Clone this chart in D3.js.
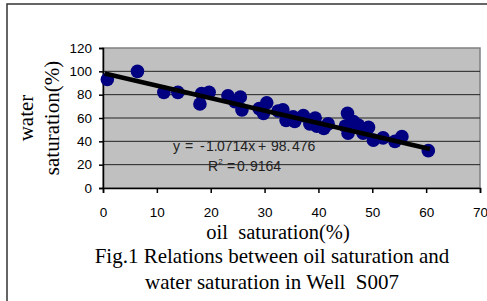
<!DOCTYPE html>
<html>
<head>
<meta charset="utf-8">
<script src="https://cdn.jsdelivr.net/npm/d3@7"></script>
<style>
  body { margin: 0; background: #fff; }
  svg { display: block; }
</style>
</head>
<body>
<div id="chart"></div>
<script>
// data
const oilSat = [0.8, 6.4, 11.3, 13.9, 18, 18.3, 19.7, 23.2, 24.5, 25.5, 25.8, 29, 29.8, 30.4,
  32.5, 33.4, 34, 35.3, 35.6, 37.2, 38.4, 39.4, 39.7, 41, 41.8, 45, 45.4, 45.5, 46.5, 47.4,
  48.3, 49.3, 50.2, 52, 54.2, 55.5, 60.4];
const waterSat = [93, 100, 82, 82, 72, 81, 82, 79, 74, 78, 67, 68, 64, 73,
  66, 67, 58, 61, 57, 62, 55, 60, 53, 51, 55, 53, 64, 47, 57, 54,
  47, 52, 41, 43, 40, 44, 32];
const xTicks = [0, 10, 20, 30, 40, 50, 60, 70];
const yTicks = [0, 20, 40, 60, 80, 100, 120];
const slope = -1.0714, intercept = 98.476;

const W = 487, H = 301;
const margin = { top: 48, right: 7, bottom: 113, left: 103 };
const width = W - margin.left - margin.right;
const height = H - margin.top - margin.bottom;

const svg = d3.select("#chart").append("svg")
  .attr("width", W).attr("height", H);

// outer frame
svg.append("rect")
  .attr("x", 7).attr("y", 4).attr("width", W + 10).attr("height", H + 10)
  .attr("fill", "none").attr("stroke", "#333").attr("stroke-width", 1.5);

const g = svg.append("g").attr("transform", `translate(${margin.left},${margin.top})`);

const x = d3.scaleLinear().domain([0, 70]).range([0, width]);
const y = d3.scaleLinear().domain([0, 120]).range([height, 0]);

// plot background
g.append("rect").attr("width", width).attr("height", height)
  .attr("fill", "#c0c0c0").attr("stroke", "#808080").attr("stroke-width", 1.5);

// gridlines
g.selectAll(".grid").data(yTicks.filter(d => d > 0 && d < 120)).enter()
  .append("line")
  .attr("x1", 0).attr("x2", width)
  .attr("y1", d => y(d)).attr("y2", d => y(d))
  .attr("stroke", "#222").attr("stroke-width", 1);

// axes
const xAxis = g.append("g").attr("transform", `translate(0,${height})`)
  .call(d3.axisBottom(x).tickValues(xTicks).tickSize(5).tickPadding(14));
const yAxis = g.append("g")
  .call(d3.axisLeft(y).tickValues(yTicks).tickSize(4).tickPadding(7));
[xAxis, yAxis].forEach(a => {
  a.selectAll("path, line").attr("stroke", "#000").attr("stroke-width", 1.5);
  a.selectAll("text").attr("fill", "#000")
    .style("font-family", "Liberation Sans, Arial, sans-serif").style("font-size", "13.5px");
});

// points
g.selectAll(".pt").data(oilSat).enter()
  .append("circle")
  .attr("cx", d => x(d))
  .attr("cy", (d, i) => y(waterSat[i]))
  .attr("r", 6.8)
  .attr("fill", "#000080");

// trend line
const xMin = d3.min(oilSat) - 0.5, xMax = d3.max(oilSat) + 0.3;
g.append("line")
  .attr("x1", x(xMin)).attr("y1", y(slope * xMin + intercept))
  .attr("x2", x(xMax)).attr("y2", y(slope * xMax + intercept))
  .attr("stroke", "#000").attr("stroke-width", 4.5);

// equation labels (spread out like the Excel label)
const eqFont = "Liberation Sans, Arial, sans-serif";
const eq = g.append("text").attr("y", 103)
  .style("font-family", eqFont).style("font-size", "14px").attr("fill", "#222");
[["y", 70], ["=", 82], ["-", 97], ["1.", 103], ["0714x", 114], ["+", 155], ["98.", 168], ["476", 189]]
  .forEach(([t, px]) => eq.append("tspan").attr("x", px).text(t));
const r2 = g.append("text").attr("y", 123)
  .style("font-family", eqFont).style("font-size", "14px").attr("fill", "#222");
r2.append("tspan").attr("x", 105).text("R");
r2.append("tspan").attr("dy", -7).style("font-size", "8px").text("2");
r2.append("tspan").attr("x", 124).attr("dy", 7).text("=");
r2.append("tspan").attr("x", 134).text("0.");
r2.append("tspan").attr("x", 147).text("9164");

// axis titles
const serif = "Liberation Serif, Times New Roman, serif";
svg.append("text")
  .attr("transform", `translate(33, ${margin.top + height / 2}) rotate(-90)`)
  .style("text-anchor", "middle").style("font-family", serif).style("font-size", "21px")
  .text("water");
svg.append("text")
  .attr("transform", `translate(59, ${margin.top + height / 2}) rotate(-90)`)
  .style("text-anchor", "middle").style("font-family", serif).style("font-size", "21px")
  .text("saturation(%)");
svg.append("text")
  .attr("x", 278).attr("y", 238.5)
  .style("text-anchor", "middle").style("font-family", serif).style("font-size", "20.5px")
  .attr("xml:space", "preserve")
  .text("oil  saturation(%)");

// caption
svg.append("text").attr("x", 272).attr("y", 263)
  .style("text-anchor", "middle").style("font-family", serif).style("font-size", "21px")
  .text("Fig.1 Relations between oil saturation and");
svg.append("text").attr("x", 272).attr("y", 289)
  .style("text-anchor", "middle").style("font-family", serif).style("font-size", "21px")
  .attr("xml:space", "preserve")
  .text("water saturation in Well  S007");
</script>
</body>
</html>
